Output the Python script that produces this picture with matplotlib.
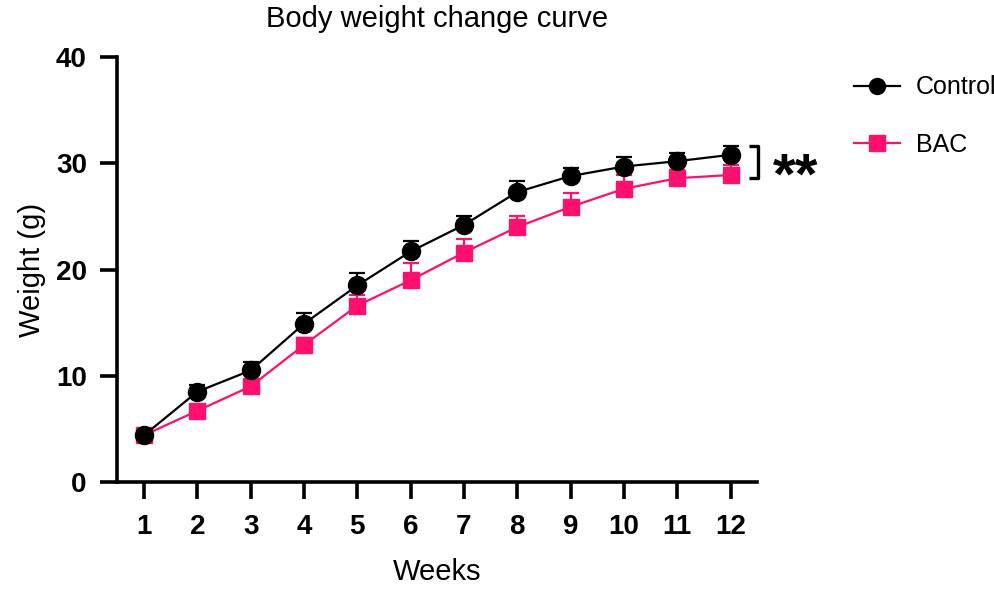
import numpy as np
import matplotlib.pyplot as plt
from matplotlib.lines import Line2D

plt.rcParams['font.family'] = ['Liberation Sans', 'DejaVu Sans']

# data
weeks = [1, 2, 3, 4, 5, 6, 7, 8, 9, 10, 11, 12]
control = [4.4, 8.5, 10.5, 14.9, 18.5, 21.7, 24.2, 27.3, 28.8, 29.7, 30.2, 30.8]
control_err = [0.4, 0.6, 0.8, 1.0, 1.2, 1.0, 0.8, 1.0, 0.8, 0.9, 0.8, 0.8]
bac = [4.4, 6.7, 9.0, 12.9, 16.6, 19.0, 21.6, 24.0, 25.9, 27.6, 28.6, 28.9]
bac_err = [0.4, 0.5, 0.6, 0.7, 1.0, 1.6, 1.3, 1.0, 1.3, 1.3, 0.8, 0.9]

pink = '#FF0F6E'

fig = plt.figure(figsize=(9.95, 5.95), dpi=100)
ax = fig.add_axes([0.118, 0.19, 0.643, 0.714])

ax.errorbar(weeks, bac, yerr=[np.zeros(len(bac)), bac_err], color=pink,
            marker='s', markersize=12, lw=1.6, capsize=6, capthick=1.6,
            elinewidth=1.6, zorder=3)
ax.errorbar(weeks, control, yerr=[np.zeros(len(control)), control_err], color='black',
            marker='o', markersize=13, lw=1.6, capsize=6, capthick=1.6,
            elinewidth=1.6, zorder=4)

ax.set_xlim(0.5, 12.5)
ax.set_ylim(0, 40)
ax.set_xticks(weeks)
ax.set_yticks([0, 10, 20, 30, 40])
for s in ['top', 'right']:
    ax.spines[s].set_visible(False)
for s in ['left', 'bottom']:
    ax.spines[s].set_linewidth(2.6)
ax.tick_params(width=2.6, length=12, labelsize=20)
ax.tick_params(axis='x', pad=11)
ax.tick_params(axis='y', pad=10)
for lab in ax.get_xticklabels() + ax.get_yticklabels():
    lab.set_fontweight('bold')

ax.set_xlabel('Weeks', fontsize=21, labelpad=13)
ax.set_ylabel('Weight (g)', fontsize=21, labelpad=7)
ax.set_title('Body weight change curve', fontsize=21, pad=22)

# significance bracket
ax.plot([12.35, 12.52, 12.52, 12.35], [31.6, 31.6, 28.6, 28.6], color='black',
        lw=2.4, clip_on=False, solid_capstyle='butt')
ax.text(12.8, 28.6, '**', fontsize=42, fontweight='bold', va='center', ha='left')

handles = [Line2D([], [], color='black', marker='o', markersize=11.5, lw=1.6),
           Line2D([], [], color=pink, marker='s', markersize=11, lw=1.6)]
ax.legend(handles, ['Control', 'BAC'], loc='upper left',
          bbox_to_anchor=(1.116, 1.01), frameon=False, fontsize=18,
          handlelength=1.84, handletextpad=0.64, labelspacing=1.35)

fig.savefig('out.png', dpi=100)
